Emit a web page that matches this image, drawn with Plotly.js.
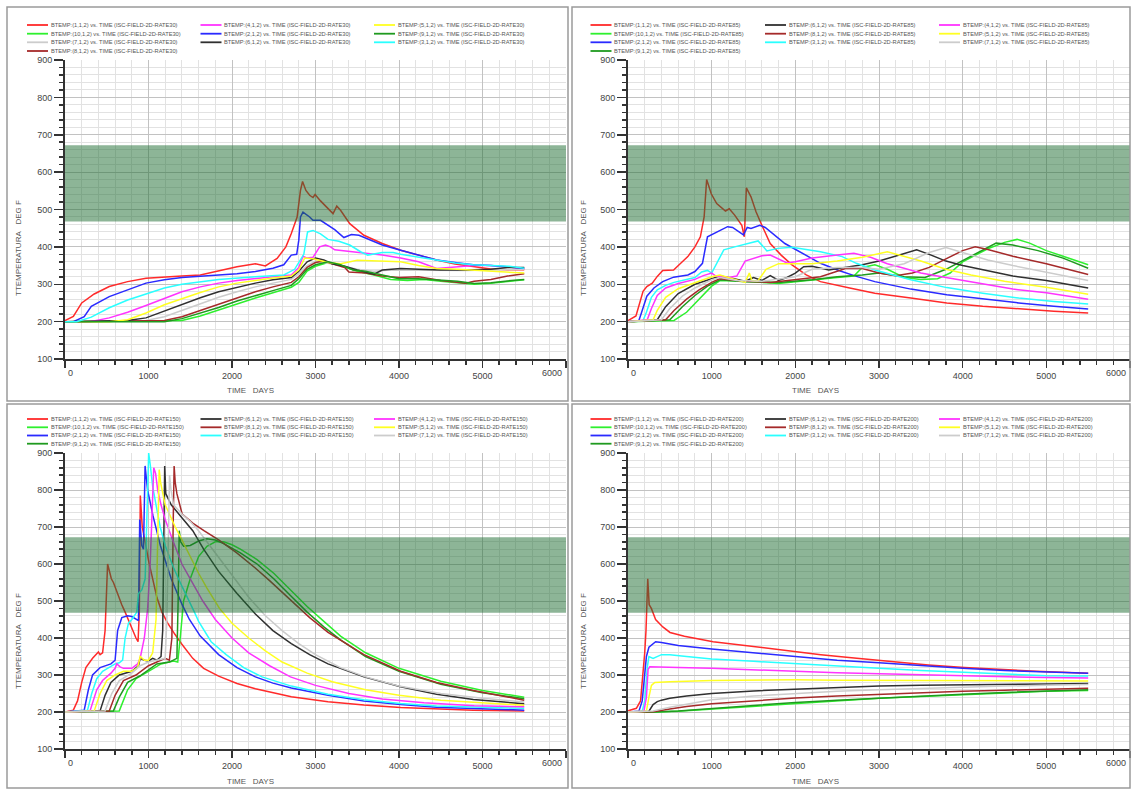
<!DOCTYPE html>
<html><head><meta charset="utf-8">
<script src="https://cdn.plot.ly/plotly-3.0.1.min.js"></script>
<style>html,body{margin:0;padding:0;background:#fff;}#chart{width:1133px;height:789px;}</style>
</head><body><div id="chart"></div>
<script>
// ---------- cell labels, colours ----------
const cells = ['(1,1,2)','(2,1,2)','(3,1,2)','(4,1,2)','(5,1,2)','(6,1,2)','(7,1,2)','(8,1,2)','(9,1,2)','(10,1,2)'];
const cellColors = ['#ff2a2a','#2a2aff','#2affff','#ff33ff','#ffff22','#303030','#cccccc','#a52a2a','#1f9a1f','#2ef02e'];
const rates = ['RATE30','RATE85','RATE150','RATE200'];
const legendGrid30 = [['(1,1,2)','(4,1,2)','(5,1,2)'],['(10,1,2)','(2,1,2)','(9,1,2)'],['(7,1,2)','(6,1,2)','(3,1,2)'],['(8,1,2)']];
const legendGridOther = [['(1,1,2)','(6,1,2)','(4,1,2)'],['(10,1,2)','(8,1,2)','(5,1,2)'],['(2,1,2)','(3,1,2)','(7,1,2)'],['(9,1,2)']];
const bandLow = 468, bandHigh = 672;
const xTicks = [0,1000,2000,3000,4000,5000,6000];
const yTicks = [100,200,300,400,500,600,700,800,900];

// ---------- RATE30 : [day, temp F] ----------
const r30_c1 = [[0,203],[100,214],[200,250],[350,274],[530,294],[750,307],[970,316],[1190,320],[1400,322],[1620,325],[1840,336],[2060,347],[2280,355],[2400,349],[2540,369],[2645,400],[2710,436],[2780,480],[2820,551],[2845,575],[2885,551],[2930,538],[2970,532],[2995,540],[3060,523],[3150,502],[3210,489],[3255,509],[3300,498],[3410,462],[3580,431],[3800,409],[4020,391],[4235,378],[4450,365],[4670,354],[4890,347],[5100,341],[5300,339],[5500,339]];
const r30_c2 = [[0,200],[100,200],[230,213],[315,241],[530,267],[750,285],[970,303],[1190,312],[1400,318],[1840,325],[2060,328],[2280,334],[2490,343],[2620,352],[2710,378],[2775,380],[2800,418],[2820,480],[2850,493],[2930,480],[2970,471],[3060,471],[3150,458],[3230,446],[3340,425],[3430,433],[3520,431],[3580,425],[3800,405],[4020,391],[4235,378],[4450,365],[4670,358],[4890,352],[5100,350],[5500,343]];
const r30_c3 = [[0,200],[140,200],[315,212],[530,237],[750,258],[970,275],[1190,290],[1400,300],[1620,307],[1840,313],[2280,320],[2620,325],[2750,340],[2820,365],[2860,380],[2905,440],[2970,444],[3060,435],[3150,420],[3280,415],[3410,405],[3540,387],[3625,378],[3800,385],[3930,385],[4020,380],[4235,373],[4450,365],[4670,357],[4890,352],[5320,348],[5500,343]];
const r30_c4 = [[0,200],[300,200],[530,210],[750,225],[970,243],[1190,262],[1400,280],[1620,293],[1840,303],[2060,310],[2280,316],[2490,320],[2710,325],[2800,345],[2850,375],[2900,370],[2970,372],[3050,400],[3120,405],[3180,400],[3230,392],[3300,390],[3400,388],[3600,383],[3800,378],[4020,370],[4235,360],[4450,342],[4600,345],[4890,350],[5100,350],[5300,345],[5500,342]];
const r30_c5 = [[0,200],[530,200],[750,205],[970,223],[1190,245],[1400,262],[1620,278],[1840,293],[2060,303],[2280,310],[2490,317],[2710,322],[2800,338],[2870,370],[2970,368],[3150,358],[3300,355],[3500,364],[3800,362],[4020,360],[4235,350],[4450,342],[4700,340],[4890,338],[5100,336],[5300,333],[5500,330]];
const r30_c6 = [[0,200],[750,203],[970,210],[1190,228],[1400,247],[1620,264],[1840,280],[2060,292],[2280,303],[2490,312],[2710,318],[2800,335],[2900,360],[3000,370],[3100,365],[3200,355],[3350,348],[3500,338],[3700,327],[3800,338],[4020,342],[4235,340],[4500,338],[4800,338],[5100,340],[5300,345],[5500,345]];
const r30_c7 = [[0,200],[970,203],[1190,213],[1400,230],[1620,248],[1840,265],[2060,280],[2280,293],[2490,303],[2710,313],[2800,328],[2900,350],[3000,362],[3100,358],[3300,350],[3500,340],[3700,335],[3900,338],[4200,337],[4500,336],[4800,337],[5100,338],[5500,340]];
const r30_c8 = [[0,200],[1190,203],[1400,213],[1620,230],[1840,247],[2060,265],[2280,280],[2490,293],[2710,305],[2800,320],[2900,345],[3000,358],[3100,362],[3200,355],[3350,345],[3400,333],[3600,330],[3800,322],[4000,318],[4235,320],[4500,310],[4800,303],[4900,308],[5100,313],[5300,322],[5500,328]];
const r30_c9 = [[0,200],[1190,200],[1400,208],[1620,222],[1840,238],[2060,255],[2280,270],[2490,283],[2710,297],[2800,315],[2900,340],[3000,352],[3150,360],[3300,352],[3450,338],[3600,335],[3800,325],[4000,315],[4235,315],[4450,312],[4700,308],[4900,302],[5100,304],[5300,309],[5500,313]];
const r30_c10 = [[0,200],[1400,203],[1620,215],[1840,230],[2060,247],[2280,263],[2490,278],[2710,292],[2800,305],[2900,335],[3000,348],[3150,358],[3300,350],[3500,335],[3700,325],[3900,313],[4100,310],[4300,313],[4500,308],[4700,305],[4900,300],[5100,303],[5300,307],[5500,312]];

// ---------- RATE85 ----------
const r85_c1 = [[0,203],[95,215],[180,281],[225,294],[290,303],[350,321],[415,337],[545,338],[630,356],[715,374],[800,400],[865,427],[910,480],[940,580],[995,542],[1060,516],[1165,496],[1210,502],[1275,485],[1360,458],[1390,427],[1415,558],[1470,534],[1530,494],[1600,458],[1700,409],[1830,378],[1960,352],[2130,325],[2300,307],[2650,290],[2950,276],[3380,263],[3810,250],[4240,241],[4670,234],[5090,228],[5500,223]];
const r85_c2 = [[0,200],[130,203],[160,223],[225,268],[310,290],[415,307],[545,319],[715,325],[800,334],[890,356],[950,427],[1015,434],[1190,454],[1250,452],[1380,432],[1425,452],[1470,449],[1575,458],[1640,452],[1875,409],[2090,383],[2300,356],[2520,337],[2730,321],[2950,307],[3380,287],[3810,272],[4240,260],[4670,250],[5090,241],[5500,234]];
const r85_c3 = [[0,200],[180,203],[220,225],[280,265],[350,285],[450,297],[550,305],[700,312],[800,318],[880,333],[950,337],[1000,330],[1050,350],[1145,392],[1275,400],[1445,409],[1555,416],[1620,400],[1660,389],[1790,396],[1960,399],[2300,387],[2560,374],[2730,356],[2950,338],[3380,312],[3810,291],[4240,276],[4670,263],[5090,254],[5500,247]];
const r85_c4 = [[0,200],[230,205],[280,235],[350,270],[450,290],[600,302],[800,313],[900,323],[1000,330],[1050,322],[1200,318],[1300,322],[1400,362],[1500,368],[1600,376],[1700,378],[1800,368],[1900,357],[2000,360],[2200,370],[2500,378],[2700,383],[2900,372],[3100,355],[3300,343],[3500,330],[3800,318],[4000,310],[4300,298],[4600,287],[5000,277],[5500,260]];
const r85_c5 = [[0,200],[300,205],[350,230],[450,265],[600,288],[800,305],[1000,320],[1100,325],[1200,318],[1300,312],[1400,305],[1450,330],[1480,310],[1550,308],[1650,340],[1800,355],[2000,355],[2200,355],[2500,362],[2800,372],[3100,387],[3300,375],[3500,362],[3800,340],[4100,325],[4500,308],[5000,292],[5500,273]];
const r85_c6 = [[0,200],[350,205],[450,240],[600,275],[800,300],[1000,315],[1100,322],[1200,318],[1400,308],[1500,318],[1600,310],[1700,323],[1800,310],[1900,318],[2000,330],[2100,347],[2200,348],[2400,338],[2600,345],[2800,352],[3000,362],[3200,375],[3450,392],[3600,380],[3800,362],[4000,350],[4300,335],[4600,322],[5000,310],[5500,290]];
const r85_c7 = [[0,200],[400,205],[500,235],[650,268],[800,290],[1000,312],[1100,318],[1300,310],[1600,308],[2000,320],[2200,340],[2500,345],[2800,345],[3000,340],[3300,355],[3600,385],[3800,398],[4000,385],[4300,365],[4600,350],[5000,333],[5500,310]];
const r85_c8 = [[0,200],[450,205],[550,230],[700,260],[850,285],[1000,305],[1100,315],[1400,308],[1700,305],[2000,312],[2300,320],[2600,342],[2800,342],[3000,330],[3200,323],[3400,330],[3600,345],[3800,368],[4000,390],[4150,400],[4300,393],[4600,375],[5000,355],[5500,326]];
const r85_c9 = [[0,200],[500,205],[650,240],[800,270],[950,295],[1100,312],[1400,307],[1800,305],[2200,312],[2500,320],[2800,325],[3000,330],[3300,320],[3550,318],[3800,340],[4100,375],[4400,410],[4600,405],[4900,390],[5200,370],[5500,343]];
const r85_c10 = [[0,200],[550,203],[700,225],[850,260],[1000,295],[1100,310],[1400,308],[1800,302],[2200,312],[2500,318],[2700,322],[2800,345],[2950,352],[3100,340],[3300,318],[3500,313],[3700,315],[3850,330],[4000,360],[4300,395],[4500,412],[4650,420],[4800,410],[5000,390],[5200,375],[5500,352]];

// ---------- RATE150 ----------
const r150_c1 = [[0,200],[100,205],[150,230],[200,280],[250,320],[330,345],[400,362],[420,355],[450,360],[480,420],[510,600],[555,560],[580,550],[620,525],[680,490],[720,470],[790,430],[850,400],[875,390],[890,470],[902,785],[925,700],[960,660],[1000,610],[1050,560],[1100,510],[1160,470],[1230,440],[1316,410],[1400,383],[1530,345],[1660,318],[1840,297],[2060,277],[2280,263],[2490,252],[2710,241],[3150,228],[3580,219],[4020,212],[4450,208],[4890,205],[5500,203]];
const r150_c2 = [[0,200],[230,205],[280,260],[330,300],[420,320],[550,330],[600,340],[630,420],[680,455],[750,460],[800,458],[850,450],[880,447],[895,720],[920,650],[940,640],[959,865],[989,800],[1054,730],[1142,650],[1272,560],[1403,490],[1490,450],[1620,405],[1840,355],[2060,320],[2280,295],[2490,278],[2710,265],[3150,245],[3580,230],[4020,220],[4450,213],[5500,205]];
const r150_c3 = [[0,200],[270,205],[320,250],[380,290],[450,310],[520,320],[600,330],[650,333],[690,340],[720,400],[760,440],[800,450],[860,470],[880,520],[920,530],[960,560],[980,700],[1002,900],[1020,870],[1050,810],[1090,760],[1140,700],[1200,650],[1300,590],[1400,540],[1490,500],[1550,470],[1600,445],[1750,390],[1930,355],[2140,320],[2360,295],[2710,270],[3150,248],[3580,233],[4020,223],[4450,216],[5500,210]];
const r150_c4 = [[0,200],[300,203],[380,260],[450,285],[550,305],[600,318],[620,330],[660,322],[700,318],[800,318],[870,330],[900,345],[950,400],[990,480],[1020,600],[1045,780],[1063,860],[1085,845],[1110,800],[1150,760],[1200,720],[1280,670],[1400,600],[1500,560],[1650,500],[1800,450],[2000,400],[2200,360],[2450,325],[2700,295],[3000,272],[3400,250],[3800,235],[4300,225],[4900,217],[5500,214]];
const r150_c5 = [[0,200],[350,203],[420,250],[500,285],[600,300],[700,310],[800,310],[870,320],[900,350],[950,340],[1000,340],[1050,360],[1090,450],[1110,650],[1128,855],[1145,820],[1170,790],[1200,760],[1250,735],[1320,700],[1400,665],[1500,620],[1600,575],[1700,535],[1850,480],[2000,440],[2200,400],[2400,365],[2600,335],[2900,305],[3200,282],[3600,260],[4000,245],[4500,232],[5000,224],[5500,218]];
const r150_c6 = [[0,200],[420,203],[480,245],[550,280],[650,300],[800,310],[880,325],[900,345],[950,340],[1000,338],[1050,345],[1100,340],[1150,350],[1170,420],[1185,700],[1194,865],[1207,790],[1272,760],[1400,725],[1530,690],[1660,640],[1840,580],[2060,520],[2280,465],[2490,420],[2710,385],[2930,355],[3150,330],[3580,295],[4020,268],[4450,248],[4890,234],[5500,222]];
const r150_c7 = [[0,200],[480,203],[560,250],[650,285],[800,305],[900,325],[1000,335],[1100,340],[1200,345],[1220,450],[1240,700],[1252,840],[1270,800],[1300,760],[1400,735],[1500,715],[1600,690],[1700,660],[1800,630],[2000,570],[2200,510],[2400,460],[2600,420],[2800,385],[3000,355],[3300,320],[3600,295],[4000,270],[4500,250],[5000,237],[5500,227]];
const r150_c8 = [[0,200],[530,203],[600,245],[700,285],[850,300],[1000,325],[1100,335],[1200,345],[1250,340],[1280,400],[1295,700],[1307,865],[1320,820],[1340,790],[1403,735],[1534,710],[1664,690],[1840,665],[2057,630],[2275,590],[2450,555],[2710,500],[2930,455],[3150,415],[3360,385],[3580,355],[4020,310],[4450,280],[4890,258],[5500,232]];
const r150_c9 = [[0,200],[580,203],[650,240],[750,280],[900,298],[1100,330],[1250,335],[1340,345],[1355,500],[1368,690],[1385,660],[1420,648],[1500,650],[1600,662],[1700,668],[1800,665],[1900,655],[2100,630],[2300,600],[2500,560],[2700,515],[2900,470],[3100,430],[3300,395],[3600,350],[4000,310],[4500,275],[5000,252],[5500,236]];
const r150_c10 = [[0,200],[650,203],[750,260],[850,290],[1000,310],[1150,330],[1300,338],[1350,335],[1380,400],[1420,500],[1500,560],[1600,620],[1700,648],[1800,660],[1900,660],[2000,652],[2100,640],[2300,612],[2500,575],[2700,530],[2900,485],[3100,445],[3300,405],[3600,360],[4000,318],[4500,283],[5000,258],[5500,240]];

// ---------- RATE200 ----------
const r200_c1 = [[0,203],[100,210],[150,230],[180,300],[200,360],[215,420],[236,560],[253,490],[279,480],[330,450],[416,430],[502,415],[674,405],[1017,390],[1446,378],[1876,365],[2305,355],[2734,345],[3163,335],[3592,327],[4021,320],[4451,315],[4880,310],[5500,305]];
const r200_c2 = [[0,200],[130,202],[170,230],[200,300],[220,350],[250,375],[300,385],[330,390],[400,388],[600,380],[1000,370],[1500,360],[2000,350],[2500,340],[3000,333],[3500,325],[4000,318],[4500,312],[5000,308],[5500,305]];
const r200_c3 = [[0,200],[170,202],[200,230],[230,320],[250,350],[300,345],[400,355],[500,355],[700,350],[1000,343],[1500,337],[2000,330],[2500,323],[3000,318],[3500,312],[4000,307],[4500,302],[5000,298],[5500,297]];
const r200_c4 = [[0,200],[190,202],[220,240],[240,315],[260,322],[400,322],[600,320],[1000,318],[1500,313],[2000,310],[2500,306],[3000,303],[3500,300],[4000,297],[4500,295],[5000,293],[5500,292]];
const r200_c5 = [[0,200],[220,202],[250,240],[280,272],[320,280],[500,282],[1000,285],[1500,287],[2000,287],[2500,286],[3000,286],[3500,285],[4000,285],[4500,284],[5000,284],[5500,284]];
const r200_c6 = [[0,200],[250,202],[300,220],[350,228],[400,232],[500,237],[700,243],[1000,250],[1500,257],[2000,262],[2500,266],[3000,270],[3500,272],[4000,274],[4500,275],[5000,276],[5500,277]];
const r200_c7 = [[0,200],[300,203],[500,213],[800,225],[1000,233],[1500,243],[2000,250],[2500,256],[3000,260],[3500,264],[4000,267],[4500,270],[5000,272],[5500,274]];
const r200_c8 = [[0,200],[300,201],[500,208],[700,215],[1000,222],[1500,230],[2000,238],[2500,243],[3000,248],[3500,252],[4000,256],[4500,259],[5000,261],[5500,264]];
const r200_c9 = [[0,200],[300,200],[600,203],[1000,210],[1500,218],[2000,226],[2500,232],[3000,238],[3500,243],[4000,248],[4500,253],[5000,257],[5500,260]];
const r200_c10 = [[0,200],[300,199],[600,202],[1000,208],[1500,216],[2000,224],[2500,230],[3000,237],[3500,242],[4000,247],[4500,252],[5000,256],[5500,258]];

const seriesByRate = {
  RATE30:  [r30_c1,r30_c2,r30_c3,r30_c4,r30_c5,r30_c6,r30_c7,r30_c8,r30_c9,r30_c10],
  RATE85:  [r85_c1,r85_c2,r85_c3,r85_c4,r85_c5,r85_c6,r85_c7,r85_c8,r85_c9,r85_c10],
  RATE150: [r150_c1,r150_c2,r150_c3,r150_c4,r150_c5,r150_c6,r150_c7,r150_c8,r150_c9,r150_c10],
  RATE200: [r200_c1,r200_c2,r200_c3,r200_c4,r200_c5,r200_c6,r200_c7,r200_c8,r200_c9,r200_c10]
};
const legendByRate = {RATE30: legendGrid30, RATE85: legendGridOther, RATE150: legendGridOther, RATE200: legendGridOther};

// ---------- layout (pixel geometry) ----------
const W = 1133, H = 789;
const PX = v => v / W, PY = v => 1 - v / H;
const FONT = 'Liberation Sans, Arial, sans-serif';
const panels = [
  {ax:'',  xd:[65,566],  yd:[60,359],  box:[7,7,568,401],    legX:[27,200.5,374],  legY:[25,33.7,42.3,51],   ytl:[18,248],  xtl:[250,390]},
  {ax:'2', xd:[628,1130],yd:[60,359],  box:[572,7,1130,401], legX:[590.5,765,939], legY:[25,33.7,42.3,51],   ytl:[583,248], xtl:[815,390]},
  {ax:'3', xd:[65,566],  yd:[453,749], box:[7,404,568,788],  legX:[27,200.5,374],  legY:[419,427.3,435.5,443.7], ytl:[18,641], xtl:[250,781]},
  {ax:'4', xd:[628,1130],yd:[453,749], box:[572,404,1130,788],legX:[590.5,765,939],legY:[419,427.3,435.5,443.7], ytl:[583,641], xtl:[815,781]}
];

const traces = [], shapes = [], annotations = [];
const layout = {width:W, height:H, margin:{l:0,r:0,t:0,b:0}, paper_bgcolor:'#fff', plot_bgcolor:'#fff', showlegend:false, font:{family:FONT}};
const tickFont = {family:FONT, size:9, color:'#444'};

panels.forEach((p, i) => {
  const rate = rates[i];
  const xa = 'x' + p.ax, ya = 'y' + p.ax;
  const grid = legendByRate[rate];
  // draw order: legend column-major
  const order = [];
  for (let c = 0; c < 3; c++) for (let r = 0; r < grid.length; r++) if (grid[r][c]) order.push(grid[r][c]);
  order.forEach(cell => {
    const k = cells.indexOf(cell);
    const pts = seriesByRate[rate][k];
    traces.push({type:'scatter', mode:'lines', x: pts.map(d => d[0]), y: pts.map(d => d[1]),
      xaxis: xa, yaxis: ya, name: 'BTEMP:' + cell + ' vs. TIME (ISC-FIELD-2D-' + rate + ')',
      line:{color: cellColors[k], width:1.5}, hoverinfo:'skip'});
  });
  // end tick labels (0 left-aligned, 6000 right-aligned) drawn as text, inner ones by the axis
  layout['xaxis' + p.ax] = {domain:[PX(p.xd[0]), PX(p.xd[1])], anchor: ya, range:[0,6000], tickvals:xTicks,
    ticktext: xTicks.map((v, j) => (j === 0 || j === xTicks.length - 1) ? '' : String(v)),
    ticks:'outside', ticklen:7, tickwidth:1.5, tickcolor:'#333', showline:true, linecolor:'#333', linewidth:2,
    showgrid:true, gridcolor:'#c2c2c2', gridwidth:1, zeroline:false, fixedrange:true, tickfont:tickFont,
    minor:{dtick:200, tick0:0, ticks:'outside', ticklen:4, tickcolor:'#333', showgrid:true, gridcolor:'#e2e2e2', gridwidth:1}};
  layout['yaxis' + p.ax] = {domain:[PY(p.yd[1]), PY(p.yd[0])], anchor: xa, range:[100,900], tickvals:yTicks,
    ticks:'outside', ticklen:9, tickwidth:1.5, tickcolor:'#333', showline:true, linecolor:'#333', linewidth:2,
    showgrid:true, gridcolor:'#c2c2c2', gridwidth:1, zeroline:false, fixedrange:true, tickfont:tickFont,
    minor:{dtick:20, tick0:100, ticks:'outside', ticklen:4, tickcolor:'#333', showgrid:true, gridcolor:'#e2e2e2', gridwidth:1}};
  annotations.push({xref: xa, yref:'paper', x: xTicks[0], y: PY(p.yd[1] + 14), xanchor:'left', yanchor:'middle', xshift:1, showarrow:false,
    text:String(xTicks[0]), font:tickFont});
  annotations.push({xref: xa, yref:'paper', x: xTicks[xTicks.length - 1], y: PY(p.yd[1] + 14), xanchor:'right', yanchor:'middle', xshift:-2, showarrow:false,
    text:String(xTicks[xTicks.length - 1]), font:tickFont});
  // green target band (semi-transparent, on top)
  shapes.push({type:'rect', layer:'above', xref: xa + ' domain', yref: ya, x0:0, x1:1, y0:bandLow, y1:bandHigh,
    fillcolor:'rgba(27,107,47,0.5)', line:{width:0}});
  // panel box
  shapes.push({type:'rect', xref:'paper', yref:'paper', x0:PX(p.box[0]), x1:PX(p.box[2]), y0:PY(p.box[3]), y1:PY(p.box[1]),
    line:{color:'#9a9a9a', width:1.5}, fillcolor:'rgba(0,0,0,0)'});
  // legend
  grid.forEach((row, r) => row.forEach((cell, c) => {
    const k = cells.indexOf(cell);
    const x0 = p.legX[c], y = p.legY[r];
    shapes.push({type:'line', xref:'paper', yref:'paper', x0:PX(x0), x1:PX(x0 + 21), y0:PY(y), y1:PY(y), line:{color:cellColors[k], width:1.8}});
    annotations.push({xref:'paper', yref:'paper', x:PX(x0 + 21.5), y:PY(y), xanchor:'left', yanchor:'middle', showarrow:false,
      text:'BTEMP:' + cell + ' vs. TIME (ISC-FIELD-2D-' + rate + ')', font:{family:FONT, size:5.7, color:'#555'}});
  }));
  // axis titles
  annotations.push({xref:'paper', yref:'paper', x:PX(p.xtl[0]), y:PY(p.xtl[1]), xanchor:'center', yanchor:'middle', showarrow:false,
    text:'TIME\u00a0\u00a0\u00a0DAYS', font:{family:FONT, size:8, color:'#555'}});
  annotations.push({xref:'paper', yref:'paper', x:PX(p.ytl[0]), y:PY(p.ytl[1]), xanchor:'center', yanchor:'middle', showarrow:false, textangle:-90,
    text:'TTEMPERATURA\u00a0\u00a0\u00a0DEG F', font:{family:FONT, size:8, color:'#555'}});
});
layout.shapes = shapes;
layout.annotations = annotations;
Plotly.newPlot('chart', traces, layout, {staticPlot:true, displayModeBar:false});
</script></body></html>
